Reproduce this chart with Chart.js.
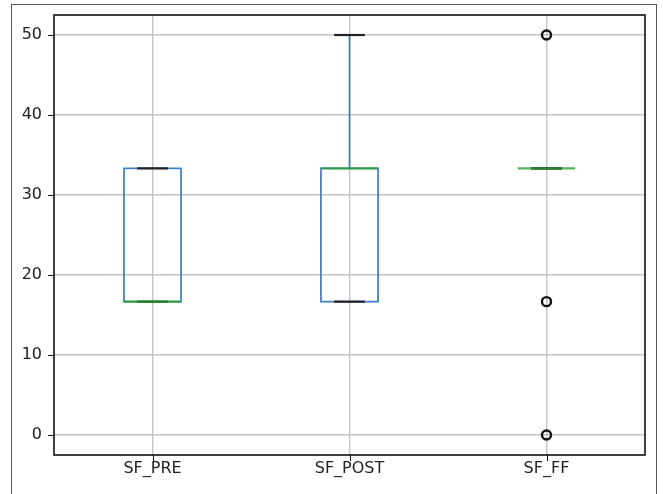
<!DOCTYPE html>
<html lang="en">
<head>
    <meta charset="UTF-8">
    <title>SF box plot</title>
    <script src="https://cdn.jsdelivr.net/npm/chart.js"></script>
    <style>
        body { margin: 0; background: #fff; }
        #wrap { width: 663px; height: 494px; }
    </style>
</head>
<body>
    <div id="wrap"><canvas id="boxChart"></canvas></div>

    <script>
        // box plot summaries
        const categories = ['SF_PRE', 'SF_POST', 'SF_FF'];
        const q1 = [16.67, 16.67, 33.33];
        const medians = [16.67, 33.33, 33.33];
        const q3 = [33.33, 33.33, 33.33];
        const whiskerLow = [16.67, 16.67, 33.33];
        const whiskerHigh = [33.33, 50, 33.33];
        const fliers = [[], [], [50, 16.67, 0]];
        const yTicks = [0, 10, 20, 30, 40, 50];

        const boxHalf = 0.145;
        const capHalf = 0.078;

        const flierPoints = [];
        fliers.forEach((vals, i) => vals.forEach(v => flierPoints.push({ x: i + 1, y: v })));

        const boxPlugin = {
            id: 'boxPlugin',
            beforeDraw(chart) {
                const c = chart.ctx;
                c.save();
                c.fillStyle = '#fff';
                c.fillRect(0, 0, chart.width, chart.height);
                c.strokeStyle = '#555';
                c.lineWidth = 1;
                c.strokeRect(11.5, 4.5, 645, 520);
                c.restore();
            },
            afterDatasetsDraw(chart) {
                const c = chart.ctx;
                const x = chart.scales.x, y = chart.scales.y;
                const a = chart.chartArea;
                c.save();
                c.beginPath();
                c.rect(a.left, a.top, a.right - a.left, a.bottom - a.top);
                c.clip();
                categories.forEach((cat, i) => {
                    const pos = i + 1;
                    const xl = x.getPixelForValue(pos - boxHalf);
                    const xr = x.getPixelForValue(pos + boxHalf);
                    const xc = x.getPixelForValue(pos);
                    const cl = x.getPixelForValue(pos - capHalf);
                    const cr = x.getPixelForValue(pos + capHalf);
                    const yq1 = y.getPixelForValue(q1[i]);
                    const yq3 = y.getPixelForValue(q3[i]);
                    // box
                    c.strokeStyle = '#3a7dc9';
                    c.lineWidth = 1.7;
                    if (q3[i] > q1[i]) {
                        c.strokeRect(xl, yq3, xr - xl, yq1 - yq3);
                    }
                    // whiskers
                    c.beginPath();
                    c.moveTo(xc, yq3);
                    c.lineTo(xc, y.getPixelForValue(whiskerHigh[i]));
                    c.moveTo(xc, yq1);
                    c.lineTo(xc, y.getPixelForValue(whiskerLow[i]));
                    c.stroke();
                    // caps
                    c.strokeStyle = '#222';
                    c.lineWidth = 2.2;
                    [whiskerLow[i], whiskerHigh[i]].forEach(v => {
                        const yy = y.getPixelForValue(v);
                        c.beginPath();
                        c.moveTo(cl, yy);
                        c.lineTo(cr, yy);
                        c.stroke();
                    });
                    // median
                    const ym = y.getPixelForValue(medians[i]);
                    c.strokeStyle = 'rgba(44,160,44,0.8)';
                    c.lineWidth = 2.4;
                    c.beginPath();
                    c.moveTo(xl, ym);
                    c.lineTo(xr, ym);
                    c.stroke();
                });
                c.restore();
            },
            afterDraw(chart) {
                const c = chart.ctx;
                const x = chart.scales.x, y = chart.scales.y;
                const a = chart.chartArea;
                c.save();
                c.strokeStyle = '#111';
                c.lineWidth = 1.6;
                c.strokeRect(a.left, a.top, a.right - a.left, a.bottom - a.top);
                c.lineWidth = 1;
                c.beginPath();
                yTicks.forEach(v => {
                    const yy = Math.round(y.getPixelForValue(v)) + 0.5;
                    c.moveTo(a.left - 6, yy);
                    c.lineTo(a.left, yy);
                });
                categories.forEach((cat, i) => {
                    const xx = Math.round(x.getPixelForValue(i + 1)) + 0.5;
                    c.moveTo(xx, a.bottom);
                    c.lineTo(xx, a.bottom + 6);
                });
                c.stroke();
                c.restore();
            }
        };

        const ctx = document.getElementById('boxChart').getContext('2d');
        new Chart(ctx, {
            type: 'scatter',
            data: {
                datasets: [{
                    label: 'fliers',
                    data: flierPoints,
                    pointStyle: 'circle',
                    pointRadius: 4.5,
                    pointBorderWidth: 2.4,
                    borderColor: '#111',
                    backgroundColor: 'rgba(0,0,0,0)'
                }]
            },
            options: {
                responsive: true,
                maintainAspectRatio: false,
                animation: false,
                layout: { padding: { top: 15, right: 18, left: 0, bottom: 0 } },
                plugins: {
                    legend: { display: false },
                    tooltip: { enabled: false }
                },
                scales: {
                    x: {
                        type: 'linear',
                        min: 0.5,
                        max: 3.5,
                        afterFit: s => { s.height = 39; s.paddingLeft = 0; s.paddingRight = 0; },
                        afterBuildTicks: s => { s.ticks = categories.map((c, i) => ({ value: i + 1 })); },
                        grid: { color: '#c4c4c4', lineWidth: 1.4, drawTicks: false },
                        border: { display: false },
                        ticks: {
                            padding: 4,
                            color: '#222',
                            font: { family: 'DejaVu Sans', size: 16 },
                            callback: v => categories[v - 1]
                        }
                    },
                    y: {
                        min: -2.5,
                        max: 52.5,
                        afterFit: s => { s.width = 54; s.paddingTop = 0; s.paddingBottom = 0; },
                        afterBuildTicks: s => { s.ticks = yTicks.map(v => ({ value: v })); },
                        grid: { color: '#c4c4c4', lineWidth: 1.4, drawTicks: false },
                        border: { display: false },
                        ticks: {
                            padding: 12,
                            color: '#222',
                            font: { family: 'DejaVu Sans', size: 16 }
                        }
                    }
                }
            },
            plugins: [boxPlugin]
        });
    </script>
</body>
</html>
